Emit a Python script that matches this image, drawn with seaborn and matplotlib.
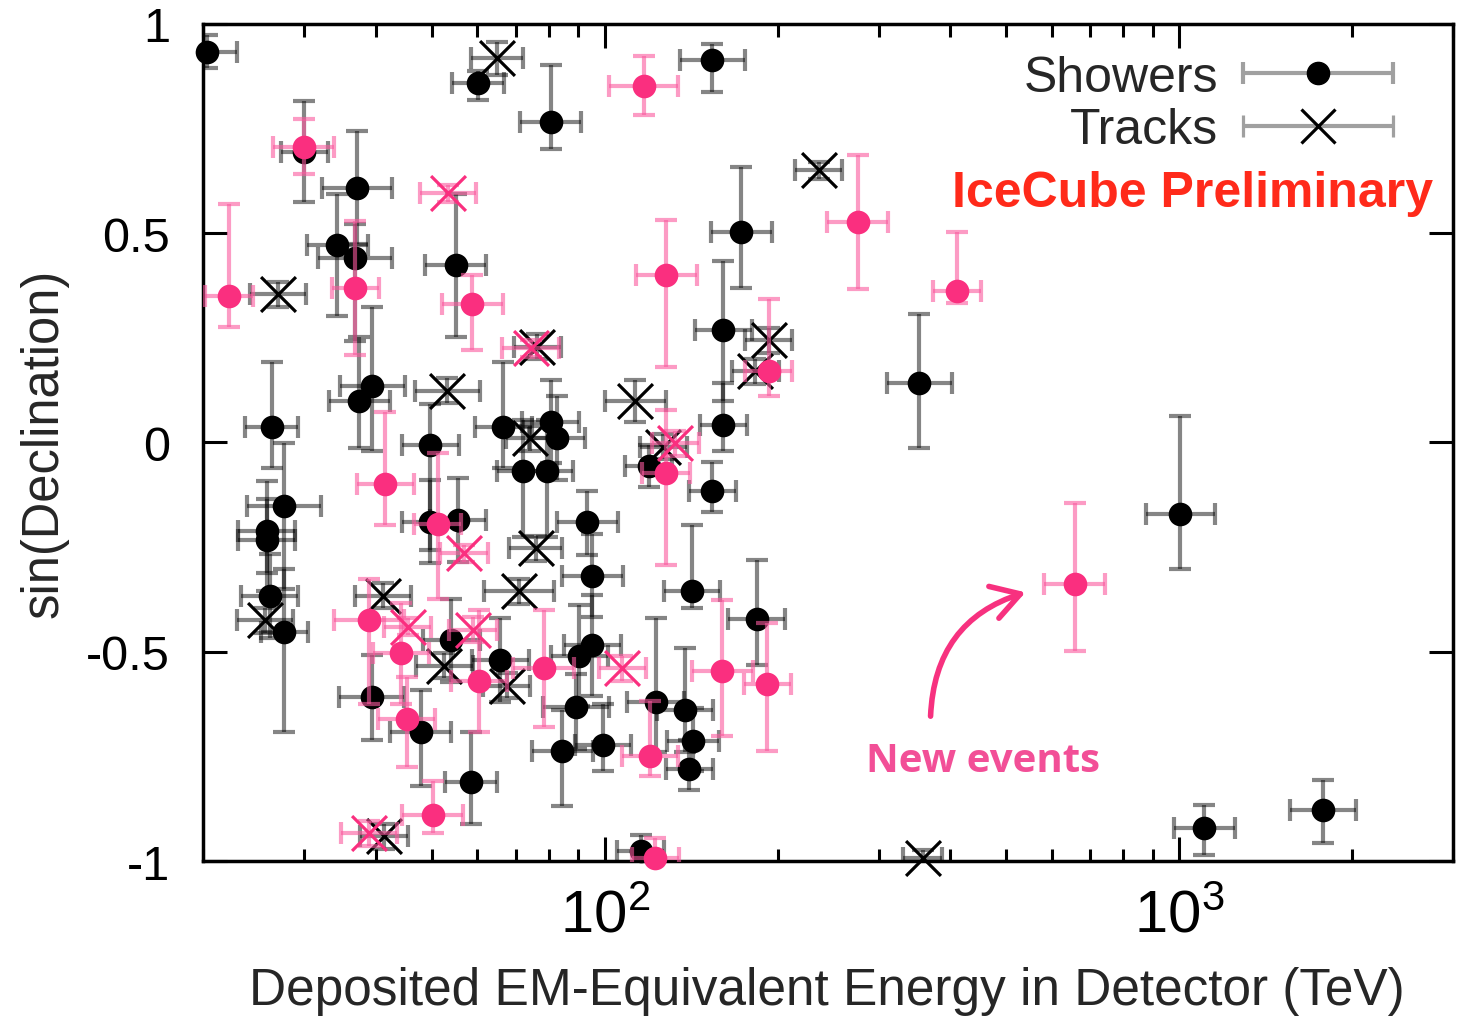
import numpy as np
import pandas as pd
import matplotlib
matplotlib.use('Agg')
import matplotlib.pyplot as plt
import seaborn as sns
from matplotlib.container import ErrorbarContainer
from matplotlib.legend_handler import HandlerErrorbar
from matplotlib.ticker import FuncFormatter, NullFormatter

sns.set_style('ticks')
plt.rcParams['font.family'] = ['Liberation Sans', 'DejaVu Sans']
plt.rcParams['mathtext.fontset'] = 'custom'
plt.rcParams['mathtext.rm'] = 'Liberation Sans'
plt.rcParams['mathtext.default'] = 'regular'
plt.rcParams['axes.unicode_minus'] = False

# Showers (earlier years) - energy in TeV, sin(dec), dec errors, fractional energy error
sh_E = [20.3, 60.3, 80.5, 30.0, 37.1, 34.2, 36.8, 55.0, 39.4, 37.4, 26.3, 49.7, 66.6,
        80.5, 82.6, 72.1, 79.3, 93.3, 95.2, 119.3, 161, 161, 154, 173, 154, 353, 1006,
        1106, 1781, 27.7, 25.8, 25.8, 26.1, 27.7, 54.1, 65.8, 90.4, 95.2, 39.3, 47.8,
        89.2, 84.4, 99.3, 58.5, 55.5, 49.7, 142, 184, 122.7, 138, 142.7, 140.5, 115.5]
sh_s = [0.934, 0.858, 0.767, 0.695, 0.609, 0.473, 0.442, 0.423, 0.134, 0.098, 0.038,
        -0.007, 0.038, 0.050, 0.010, -0.067, -0.067, -0.189, -0.318, -0.057, 0.268,
        0.041, -0.117, 0.504, 0.913, 0.141, -0.172, -0.920, -0.877, -0.151, -0.212,
        -0.234, -0.366, -0.452, -0.473, -0.519, -0.509, -0.485, -0.607, -0.691, -0.633,
        -0.738, -0.724, -0.812, -0.186, -0.189, -0.356, -0.421, -0.619, -0.640, -0.714,
        -0.781, -0.977]
sh_up = [0.04, 0.03, 0.135, 0.12, 0.135, 0.12, 0.08, 0.17, 0.19, 0.155, 0.155, 0.10,
         0.155, 0.10, 0.10, 0.12, 0.12, 0.074, 0.10, 0.05, 0.165, 0.10, 0.07, 0.155,
         0.04, 0.167, 0.235, 0.055, 0.07, 0.15, 0.12, 0.10, 0.10, 0.15, 0.10, 0.10, 0.12,
         0.12, 0.10, 0.10, 0.08, 0.10, 0.10, 0.12, 0.10, 0.10, 0.16, 0.14, 0.20, 0.15,
         0.08, 0.07, 0.04]
sh_dn = [0.04, 0.04, 0.065, 0.12, 0.135, 0.17, 0.20, 0.17, 0.155, 0.11, 0.10, 0.25,
         0.10, 0.10, 0.10, 0.16, 0.16, 0.08, 0.10, 0.05, 0.17, 0.062, 0.05, 0.135, 0.075,
         0.155, 0.13, 0.065, 0.08, 0.20, 0.10, 0.12, 0.10, 0.24, 0.10, 0.10, 0.12, 0.12,
         0.105, 0.13, 0.10, 0.13, 0.06, 0.10, 0.10, 0.10, 0.04, 0.11, 0.12, 0.10, 0.07,
         0.05, 0.04]
sh_ef = [0.13, 0.11, 0.13, 0.10, 0.15, 0.13, 0.16, 0.13, 0.14, 0.13, 0.11, 0.12, 0.12,
         0.12, 0.12, 0.11, 0.11, 0.13, 0.13, 0.10, 0.12, 0.10, 0.10, 0.13, 0.14, 0.14,
         0.15, 0.13, 0.14, 0.16, 0.12, 0.12, 0.12, 0.10, 0.12, 0.12, 0.12, 0.12, 0.14,
         0.13, 0.14, 0.13, 0.12, 0.11, 0.12, 0.12, 0.12, 0.12, 0.12, 0.12, 0.11, 0.10, 0.10]

# Showers (new events)
nsh_E = [29.9, 22.2, 36.8, 58.8, 116.9, 128, 275.7, 411, 193, 128, 41.5, 51.2, 38.9,
         44.2, 60.4, 78.3, 45.2, 50.2, 120, 160.4, 192, 658, 122.6]
nsh_s = [0.707, 0.351, 0.370, 0.330, 0.853, 0.401, 0.526, 0.363, 0.172, -0.072, -0.098,
         -0.194, -0.425, -0.504, -0.571, -0.540, -0.660, -0.889, -0.748, -0.547, -0.576,
         -0.339, -0.994]
nsh_up = [0.065, 0.22, 0.16, 0.07, 0.07, 0.13, 0.16, 0.14, 0.17, 0.15, 0.17, 0.17, 0.10,
          0.12, 0.17, 0.14, 0.10, 0.08, 0.13, 0.17, 0.145, 0.195, 0.05]
nsh_dn = [0.065, 0.075, 0.16, 0.11, 0.07, 0.22, 0.16, 0.03, 0.06, 0.22, 0.10, 0.18, 0.20,
          0.12, 0.12, 0.14, 0.115, 0.045, 0.05, 0.155, 0.16, 0.16, 0.05]
nsh_ef = [0.13, 0.10, 0.10, 0.13, 0.15, 0.13, 0.13, 0.10, 0.10, 0.10, 0.12, 0.10, 0.15,
          0.12, 0.12, 0.13, 0.12, 0.13, 0.12, 0.13, 0.10, 0.13, 0.10]

# Tracks (earlier years)
tr_E = [65.0, 27.0, 76.4, 53.2, 113.1, 126.6, 193, 183, 235.8, 74.0, 75.8, 70.9, 41.1,
        25.6, 52.6, 67.5, 41.3, 357.8]
tr_s = [0.918, 0.354, 0.229, 0.124, 0.100, -0.010, 0.244, 0.170, 0.650, 0.010, -0.253,
        -0.356, -0.366, -0.425, -0.533, -0.581, -0.941, -0.994]
tr_dec = [0.04, 0.03, 0.03, 0.03, 0.05, 0.03, 0.03, 0.03, 0.02, 0.03, 0.03, 0.03, 0.03,
          0.03, 0.03, 0.03, 0.03, 0.02]
tr_ef = [0.11, 0.12, 0.10, 0.14, 0.13, 0.10, 0.10, 0.10, 0.10, 0.10, 0.11, 0.15, 0.12,
         0.12, 0.12, 0.10, 0.10, 0.08]

# Tracks (new events)
ntr_E = [53.4, 74.3, 132.8, 56.9, 45.4, 59.0, 107.4, 38.9]
ntr_s = [0.595, 0.225, -0.002, -0.265, -0.440, -0.447, -0.540, -0.934]
ntr_dec = [0.02, 0.02, 0.03, 0.02, 0.02, 0.03, 0.03, 0.03]
ntr_ef = [0.12, 0.12, 0.10, 0.10, 0.10, 0.10, 0.10, 0.12]


def block(E, s, up, dn, ef, topo, sample):
    return pd.DataFrame({'energy': E, 'sindec': s, 'up': up, 'dn': dn,
                         'efrac': ef, 'topology': topo, 'sample': sample})


events = pd.concat([
    block(sh_E, sh_s, sh_up, sh_dn, sh_ef, 'Shower', 'old'),
    block(tr_E, tr_s, tr_dec, tr_dec, tr_ef, 'Track', 'old'),
    block(nsh_E, nsh_s, nsh_up, nsh_dn, nsh_ef, 'Shower', 'new'),
    block(ntr_E, ntr_s, ntr_dec, ntr_dec, ntr_ef, 'Track', 'new'),
], ignore_index=True)

mark_color = {'old': 'black', 'new': '#fa2f7f'}
bar_color = {'old': (0, 0, 0, 0.48), 'new': (0.98, 0.35, 0.62, 0.6)}

fig, ax = plt.subplots(figsize=(14.62, 10.20), dpi=100)
fig.subplots_adjust(left=0.139, right=0.9938, top=0.9755, bottom=0.1549)
ax.set_xscale('log')

z = 2
for sample in ['old', 'new']:
    sub = events[events['sample'] == sample]
    lo = sub.energy - sub.energy / (1 + sub.efrac)
    hi = sub.energy * (1 + sub.efrac) - sub.energy
    ax.errorbar(sub.energy, sub.sindec, xerr=[lo, hi], yerr=[sub.dn, sub.up],
                fmt='none', ecolor=bar_color[sample], elinewidth=3.0,
                capsize=8, capthick=3.0, zorder=z)
    sns.scatterplot(data=sub[sub.topology == 'Shower'], x='energy', y='sindec',
                    color=mark_color[sample], marker='o', s=290, linewidth=0,
                    legend=False, ax=ax, zorder=z + 1, clip_on=False)
    sns.scatterplot(data=sub[sub.topology == 'Track'], x='energy', y='sindec',
                    color=mark_color[sample], marker='x', s=630, linewidth=2.3,
                    legend=False, ax=ax, zorder=z + 1, clip_on=False)
    z += 2

ax.set_xlim(20, 3000)
ax.set_ylim(-1, 1)
ax.set_yticks([-1, -0.5, 0, 0.5, 1])
ax.yaxis.set_major_formatter(FuncFormatter(lambda v, _: f'{v:g}'))
ax.xaxis.set_minor_formatter(NullFormatter())
ax.tick_params(which='both', direction='in', top=True, right=True, width=2.2, colors='black')
ax.tick_params(which='major', length=17, labelsize=35)
ax.tick_params(axis='x', which='major', pad=20, labelsize=43)
ax.tick_params(axis='y', which='major', pad=24)
ax.tick_params(which='minor', length=9)
for sp in ax.spines.values():
    sp.set_linewidth(2.5)
    sp.set_color('black')

ax.set_xlabel('Deposited EM-Equivalent Energy in Detector (TeV)', fontsize=37)
ax.set_ylabel('sin(Declination)', fontsize=36.5)
ax.xaxis.set_label_coords(0.499, -0.126)
ax.yaxis.set_label_coords(-0.108, 0.5)

# legend entries
ax.errorbar([np.nan], [np.nan], xerr=[1], fmt='o', color='black', ms=16,
            ecolor='#a0a0a0', elinewidth=3.0, capsize=8, capthick=3.0, label='Showers')
ax.errorbar([np.nan], [np.nan], xerr=[1], fmt='x', color='black', ms=25, mew=2.3,
            ecolor='#a0a0a0', elinewidth=3.0, capsize=8, capthick=3.0, label='Tracks')
ax.legend(loc='upper right', bbox_to_anchor=(0.952, 0.963), frameon=False,
          fontsize=36, markerfirst=False, handlelength=3.0, handletextpad=0.5,
          labelspacing=0.13, borderpad=0, borderaxespad=0,
          handler_map={ErrorbarContainer: HandlerErrorbar(xerr_size=1.5)})

ax.text(0.984, 0.7826, 'IceCube Preliminary', transform=ax.transAxes, ha='right',
        va='baseline', fontsize=36, fontweight='bold', color='#ff2a1a')

ax.text(0.624, 0.1075, 'New events', transform=ax.transAxes, ha='center',
        va='baseline', fontsize=29, fontweight='bold', color='#f24f97',
        family=['Open Sans', 'DejaVu Sans'])
ax.annotate('', xy=(0.658, 0.321), xytext=(0.582, 0.173),
            xycoords='axes fraction', textcoords='axes fraction',
            arrowprops=dict(arrowstyle='->,head_length=0.5,head_width=0.3',
                            color='#f7317f', lw=4.0, mutation_scale=40,
                            connectionstyle='arc3,rad=-0.35', shrinkA=0, shrinkB=0))

fig.savefig('out.png', dpi=100)
